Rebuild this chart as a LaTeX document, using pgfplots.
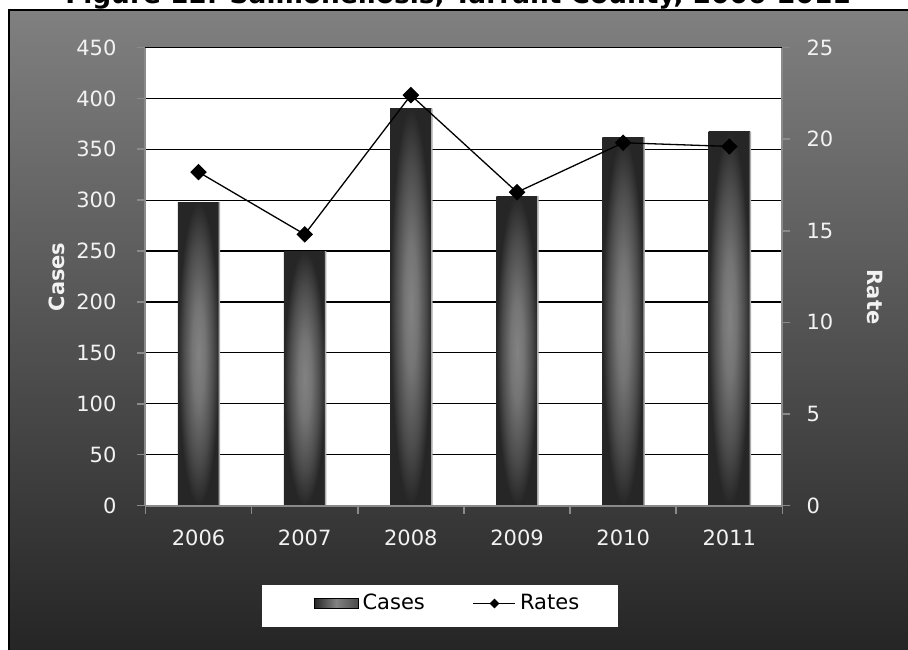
\documentclass[border=0pt]{standalone}
\usepackage{pgfplots}
\pgfplotsset{compat=1.18}
\usepackage{fontspec}
\setmainfont{DejaVu Sans}
\definecolor{bgtop}{HTML}{808080}
\definecolor{bgbot}{HTML}{252525}
\definecolor{axgray}{HTML}{8A8A8A}
\definecolor{bardark}{HTML}{262626}
\definecolor{barmid}{HTML}{828282}
\definecolor{lbl}{HTML}{F2F2F2}
\pgfdeclareradialshading{barshade}{\pgfpoint{0bp}{0bp}}{color(0bp)=(barmid); color(8bp)=(barmid!85!bardark); color(18bp)=(barmid!40!bardark); color(25bp)=(bardark); color(50bp)=(bardark)}
\newcommand{\tickfont}{\fontsize{10.5}{12}\selectfont}
\pgfplotsset{casebar/.style={ybar, bar width=0.39, draw=none, shade, shading=barshade, forget plot}}
\begin{document}
\begin{tikzpicture}[x=0.5pt,y=0.5pt]
\useasboundingbox (0,0) rectangle (908,649);
\clip (0,0) rectangle (908,649);
\shade[top color=bgtop, bottom color=bgbot] (9,-2) rectangle (910,639);
\draw[black, line width=1pt] (9,-2) -- (9,639) -- (910,639);
\node[anchor=base, font=\bfseries\fontsize{13.2}{15}\selectfont, text=black] at (458,645) {Figure 12: Salmonellosis, Tarrant County, 2006-2011};
\fill[white] (262,22) rectangle (618,64);
\begin{axis}[
  name=ax1,
  at={(137,141)}, anchor=south west,
  scale only axis, width=318.5pt, height=229pt,
  xmin=-0.5, xmax=5.5, ymin=0, ymax=450,
  axis x line*=bottom, axis y line*=left,
  axis line style={draw=axgray, line width=1pt, -},
  xtick={-0.5,0.5,...,5.5},
  xticklabels={2006,2007,2008,2009,2010,2011},
  x tick label as interval=true,
  xticklabel style={yshift=-4.5pt},
  ytick={0,50,...,450},
  yticklabel style={xshift=-7pt},
  tick align=outside,
  major tick length=4pt,
  tick style={draw=axgray, line width=0.8pt},
  ymajorgrids, grid style={black, line width=0.65pt},
  axis background/.style={fill=white},
  ticklabel style={font=\tickfont, text=lbl},
  /pgf/number format/assume math mode=true,
  legend style={at={(0.4757,-0.214)}, anchor=center, draw=none, fill=none,
    font=\tickfont, text=black, legend columns=2,
    /tikz/every even column/.append style={column sep=22pt}},
]
\addplot[casebar] coordinates {(0,298)};
\addplot[casebar] coordinates {(1,250)};
\addplot[casebar] coordinates {(2,390)};
\addplot[casebar] coordinates {(3,304)};
\addplot[casebar] coordinates {(4,362)};
\addplot[casebar] coordinates {(5,367)};
\addplot[ybar, bar width=0.014, bar shift=0.197, fill=gray!65, draw=none, forget plot] coordinates {
(0,298) (1,250) (2,390) (3,304) (4,362) (5,367)};
\addlegendimage{legend image code/.code={\shade[left color=bardark, right color=bardark!60!barmid, middle color=barmid] (0pt,-2.6pt) rectangle (22pt,2.6pt);}}
\addlegendentry{Cases}
\addlegendimage{legend image code/.code={\draw[black, line width=0.6pt] (0pt,0pt) -- (21pt,0pt); \fill[black, rotate around={45:(10.5pt,0pt)}] (9pt,-1.5pt) rectangle (12pt,1.5pt);}}
\addlegendentry{Rates}
\end{axis}
\begin{axis}[
  at={(ax1.south west)}, anchor=south west,
  scale only axis, width=318.5pt, height=229pt,
  xmin=-0.5, xmax=5.5, ymin=0, ymax=25,
  axis x line*=bottom, axis y line*=right,
  xtick=\empty,
  axis line style={draw=axgray, line width=1pt, -},
  ytick={0,5,...,25},
  yticklabel style={xshift=4.5pt},
  tick align=outside,
  major tick length=4pt,
  tick style={draw=axgray, line width=0.8pt},
  ticklabel style={font=\tickfont, text=lbl},
  /pgf/number format/assume math mode=true,
]
\addplot[black, line width=0.65pt, mark=square*, mark size=2.6pt, mark options={rotate=45}]
coordinates {(0,18.2) (1,14.8) (2,22.4) (3,17.1) (4,19.8) (5,19.6)};
\end{axis}
\node[rotate=90, font=\bfseries\tickfont, text=lbl] at (57,372) {Cases};
\node[rotate=-90, font=\bfseries\tickfont, text=lbl] at (875,352) {Rate};
\end{tikzpicture}
\end{document}
